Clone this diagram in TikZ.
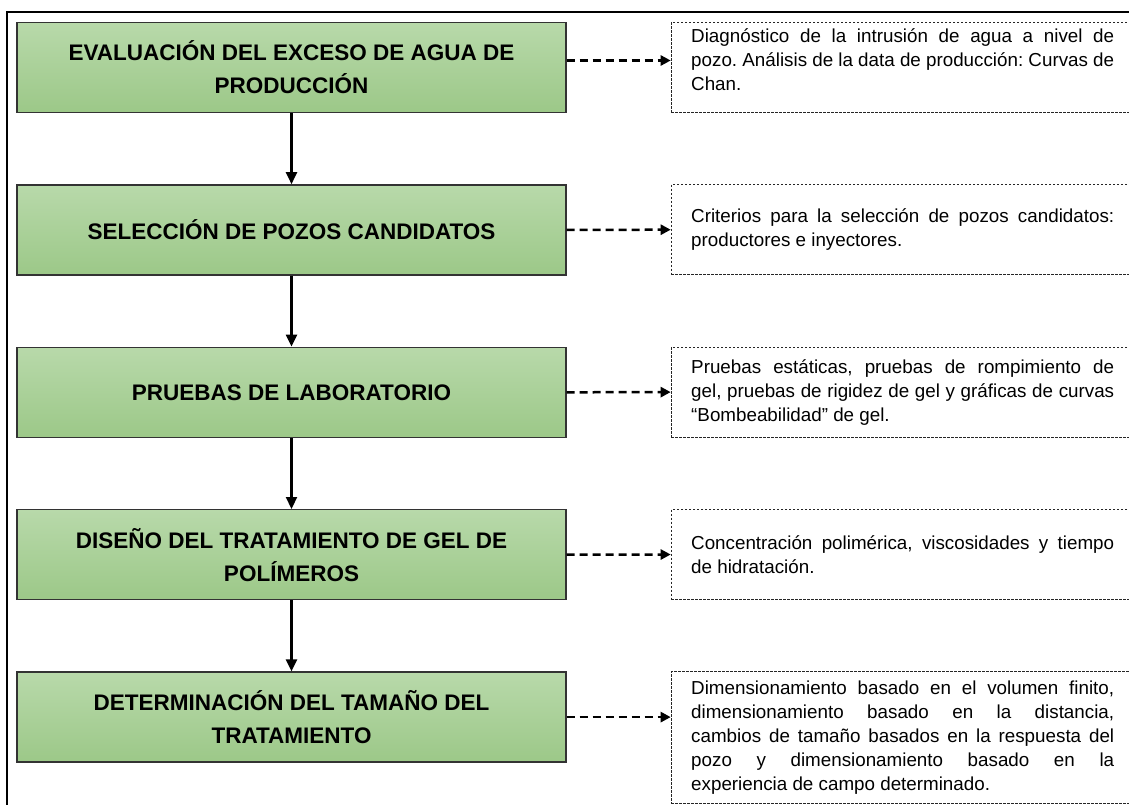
\documentclass[tikz,border=0pt]{standalone}
\usepackage{fontspec}
\setmainfont{Liberation Sans}
\usetikzlibrary{arrows.meta,positioning}
\definecolor{verdeclaro}{RGB}{184,217,170}
\definecolor{verdeoscuro}{RGB}{156,200,136}
\frenchspacing

\begin{document}
\begin{tikzpicture}[x=1pt,y=-1pt,
	paso/.style={rectangle,draw=black!80,line width=1.4pt,top color=verdeclaro,bottom color=verdeoscuro,
		minimum width=549pt,minimum height=90pt,inner sep=0pt,align=center,
		font=\fontsize{22.5}{33}\selectfont\bfseries},
	nota/.style={rectangle,draw=black!85,line width=1pt,dash pattern=on 2.5pt off 1.5pt,
		text width=423pt,inner xsep=20pt,inner ysep=9pt,minimum height=90pt,align=justify,
		font=\fontsize{18.8}{24}\selectfont,
		execute at begin node={\hyphenpenalty=10000\exhyphenpenalty=10000}},
	flecha/.style={-{Triangle[length=12pt,width=11pt]},line width=2.2pt},
	enlace/.style={-{Triangle[length=10pt,width=10pt]},line width=2.5pt,dash pattern=on 8pt off 5pt}]
\useasboundingbox (0,0) rectangle (1129,805);
\clip (0,0) rectangle (1129,805);
\draw[line width=2pt] (7,820) -- (7,12) -- (1140,12);

\node[paso] (paso1) at (291.5,67.5) {EVALUACIÓN DEL EXCESO DE AGUA DE\\PRODUCCIÓN};
\node[paso,below=71pt of paso1] (paso2) {SELECCIÓN DE POZOS CANDIDATOS};
\node[paso,below=71pt of paso2] (paso3) {PRUEBAS DE LABORATORIO};
\node[paso,below=71pt of paso3] (paso4) {DISEÑO DEL TRATAMIENTO DE GEL DE\\POLÍMEROS};
\node[paso,below=71pt of paso4] (paso5) {DETERMINACIÓN DEL TAMAÑO DEL\\TRATAMIENTO};

\node[nota,inner ysep=2pt,right=104pt of paso1.north east,anchor=north west] (nota1) {Diagnóstico de la intrusión de agua a nivel de \linebreak pozo. Análisis de la data de producción: Curvas de \linebreak Chan.\par\vspace{-9pt}\mbox{}};
\node[nota,right=104pt of paso2.north east,anchor=north west] (nota2) {Criterios para la selección de pozos candidatos: \linebreak productores e inyectores.};
\node[nota,right=104pt of paso3.north east,anchor=north west] (nota3) {Pruebas estáticas, pruebas de rompimiento de \linebreak gel, pruebas de rigidez de gel y gráficas de curvas \linebreak “Bombeabilidad” de gel.};
\node[nota,right=104pt of paso4.north east,anchor=north west] (nota4) {Concentración polimérica, viscosidades y tiempo \linebreak de hidratación.};
\node[nota,right=104pt of paso5.north east,anchor=north west] (nota5) {Dimensionamiento basado en el volumen finito, \linebreak dimensionamiento basado en la distancia, \linebreak cambios de tamaño basados en la respuesta del \linebreak pozo y dimensionamiento basado en la \linebreak experiencia de campo determinado.};

\draw[flecha] (paso1) -- (paso2);
\draw[flecha] (paso2) -- (paso3);
\draw[flecha] (paso3) -- (paso4);
\draw[flecha] (paso4) -- (paso5);

\draw[enlace] ([yshift=7pt]paso1.east) -- ([yshift=7pt]paso1.east -| nota1.west);
\draw[enlace] (paso2.east) -- (nota2.west);
\draw[enlace] (paso3.east) -- (nota3.west);
\draw[enlace] (paso4.east) -- (nota4.west);
\draw[enlace] (paso5.east) -- (paso5.east -| nota5.west);
\end{tikzpicture}
\end{document}
